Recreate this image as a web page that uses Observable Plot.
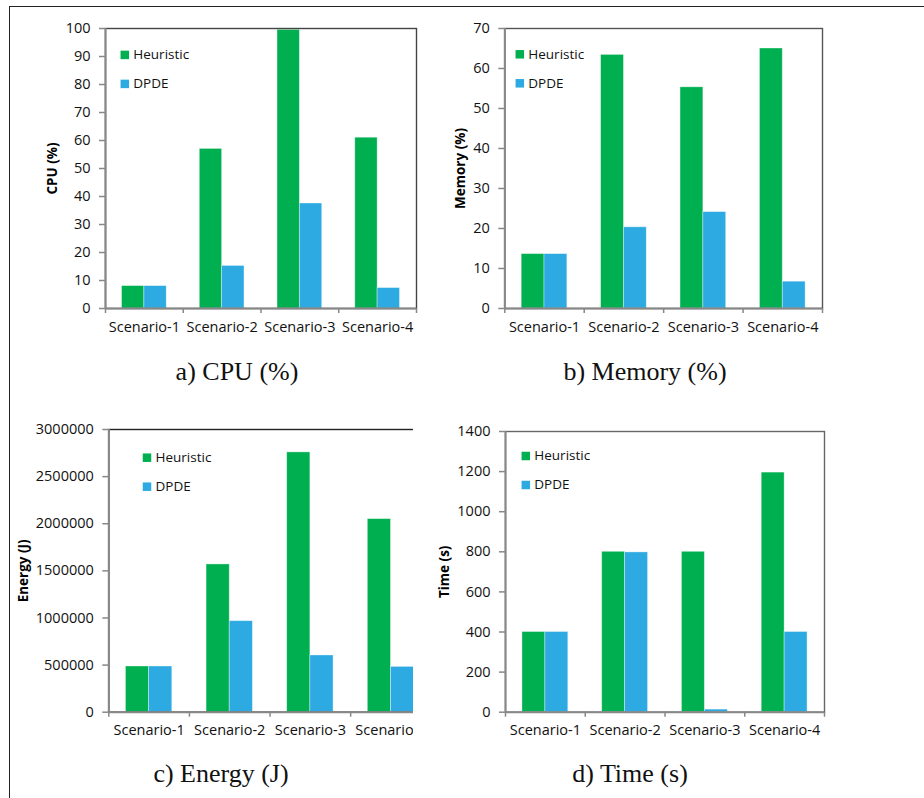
<!DOCTYPE html>
<html>
<head>
<meta charset="utf-8">
<script src="https://cdn.jsdelivr.net/npm/d3@7"></script>
<script src="https://cdn.jsdelivr.net/npm/@observablehq/plot@0.6"></script>
<style>
  html, body { margin: 0; padding: 0; background: #fff; }
  body { width: 924px; height: 798px; position: relative; overflow: hidden; }
  .outer { position: absolute; left: 9px; top: 6px; width: 940px; height: 820px;
           border-top: 1.2px solid #222; border-left: 1.2px solid #222; }
  .panel { position: absolute; overflow: hidden; }
  .panel svg { max-width: none !important; display: block; }
  .panel svg g[aria-label="y-axis tick label"] text,
  .panel svg g[aria-label="x-axis tick label"] text { font-size: 14.5px; font-family: "Open Sans", sans-serif; }
  .panel svg g[aria-label="ylabel"] text { font-size: 13.5px; font-weight: bold; font-family: "Open Sans", sans-serif; }
  .panel svg g[aria-label="legend"] text { font-size: 13.5px; font-family: "Open Sans", sans-serif; }
  .caption { position: absolute; font-family: "Liberation Serif", "Times New Roman", serif;
             font-size: 26px; line-height: 26px; white-space: nowrap; transform: translateX(-50%); color: #111; }
</style>
</head>
<body>
<div class="outer"></div>
<div id="pa" class="panel" style="left:10px;top:7px;width:440px;height:340px"></div>
<div id="pb" class="panel" style="left:440px;top:7px;width:452px;height:340px"></div>
<div id="pc" class="panel" style="left:10px;top:400px;width:403px;height:350px"></div>
<div id="pd" class="panel" style="left:420px;top:400px;width:472px;height:350px"></div>
<div class="caption" style="left:237px;top:359px">a) CPU (%)</div>
<div class="caption" style="left:645px;top:359px">b) Memory (%)</div>
<div class="caption" style="left:221px;top:761px">c) Energy (J)</div>
<div class="caption" style="left:630px;top:761px">d) Time (s)</div>
<script>
const scenarios = ["Scenario-1", "Scenario-2", "Scenario-3", "Scenario-4"];
const series = ["Heuristic", "DPDE"];
const colors = ["#00B050", "#2DAAE1"];

const cpuHeuristic = [8, 57, 99.5, 61];
const cpuDPDE = [8, 15.2, 37.5, 7.3];
const memoryHeuristic = [13.6, 63.4, 55.3, 65];
const memoryDPDE = [13.6, 20.3, 24.1, 6.7];
const energyHeuristic = [485000, 1568000, 2757000, 2049000];
const energyDPDE = [485000, 966000, 602000, 481000];
const timeHeuristic = [400, 800, 800, 1195];
const timeDPDE = [400, 797, 13, 400];

const cpuTicks = [0, 10, 20, 30, 40, 50, 60, 70, 80, 90, 100];
const memoryTicks = [0, 10, 20, 30, 40, 50, 60, 70];
const energyTicks = [0, 500000, 1000000, 1500000, 2000000, 2500000, 3000000];
const timeTicks = [0, 200, 400, 600, 800, 1000, 1200, 1400];

function drawPanel(cfg) {
  const rows = scenarios.flatMap((s, i) => series.map((k, j) => ({
    scenario: s, series: k, i, j, value: (j === 0 ? cfg.heuristic : cfg.dpde)[i]
  })));
  const gw = 0.575; // fraction of each group occupied by the bars
  const legend = series.flatMap((s, k) => [
    Plot.dot([s], {frameAnchor: "top-left", dx: cfg.legDx, dy: cfg.legDy + k * 29,
                   symbol: "square", r: 4.8, fill: d => d, stroke: null}),
    Plot.text([s], {frameAnchor: "top-left", dx: cfg.legDx + 8.5, dy: cfg.legDy + k * 29,
                    text: d => d, textAnchor: "start", lineAnchor: "middle", fontSize: 13.5,
                    fill: "#111", ariaLabel: "legend"})
  ]);
  const plot = Plot.plot({
    width: cfg.width, height: cfg.height,
    marginLeft: cfg.mL, marginRight: cfg.mR, marginTop: cfg.mT, marginBottom: cfg.mB,
    x: {domain: [0, scenarios.length], axis: null},
    y: {domain: [0, d3.max(cfg.ticks)], axis: null},
    color: {domain: series, range: colors},
    style: {fontFamily: "'Open Sans', sans-serif", fontSize: "13.5px", overflow: "visible", background: "none", color: "#111"},
    marks: [
      Plot.rect(rows, {
        x1: d => d.i + (1 - gw) / 2 + d.j * gw / 2,
        x2: d => d.i + (1 - gw) / 2 + (d.j + 1) * gw / 2,
        y1: 0, y2: "value", fill: "series", stroke: "white", strokeOpacity: 0.45, strokeWidth: 0.8
      }),
      Plot.frame({stroke: cfg.frameColor, strokeWidth: 1.4}),
      Plot.ruleX([0], {stroke: "#888", strokeWidth: 2}),
      Plot.ruleY([0], {stroke: "#888", strokeWidth: 2}),
      Plot.axisY({ticks: cfg.ticks, tickFormat: d => String(d), tickSize: 6, tickPadding: 9,
                  stroke: "#888", strokeWidth: 1.5, fontSize: 14.5, label: null}),
      Plot.axisX({ticks: d3.range(scenarios.length + 1), tickFormat: () => "", tickSize: 5,
                  stroke: "#888", strokeWidth: 1.5, label: null}),
      Plot.axisX({ticks: scenarios.map((s, i) => i + 0.5), tickFormat: v => scenarios[Math.floor(v)],
                  tickSize: 0, tickPadding: 13, fontSize: 14.5, label: null}),
      Plot.text([cfg.label], {frameAnchor: "left", rotate: -90, dx: cfg.labelDx, text: d => d,
                              textAnchor: "middle", lineAnchor: "middle",
                              fontWeight: "bold", fontSize: 13.5, fill: "#000", ariaLabel: "ylabel"}),
      ...legend
    ]
  });
  document.getElementById(cfg.el).appendChild(plot);
}

drawPanel({el: "pa", heuristic: cpuHeuristic, dpde: cpuDPDE, ticks: cpuTicks, label: "CPU (%)",
  width: 440, height: 338, mL: 95, mR: 34, mT: 21, mB: 37, labelDx: -53,
  legDx: 19.3, legDy: 26.4, frameColor: "#444"});
drawPanel({el: "pb", heuristic: memoryHeuristic, dpde: memoryDPDE, ticks: memoryTicks, label: "Memory (%)",
  width: 452, height: 338, mL: 64.3, mR: 70, mT: 21, mB: 37, labelDx: -44.3,
  legDx: 15, legDy: 25.8, frameColor: "#555"});
drawPanel({el: "pc", heuristic: energyHeuristic, dpde: energyDPDE, ticks: energyTicks, label: "Energy (J)",
  width: 440, height: 350, mL: 98.3, mR: 19.2, mT: 29, mB: 38.3, labelDx: -85.6,
  legDx: 38.2, legDy: 28.2, frameColor: "#222"});
drawPanel({el: "pd", heuristic: timeHeuristic, dpde: timeDPDE, ticks: timeTicks, label: "Time (s)",
  width: 472, height: 350, mL: 85, mR: 68, mT: 31, mB: 38.3, labelDx: -61,
  legDx: 20.3, legDy: 24.5, frameColor: "#666"});
</script>
</body>
</html>
